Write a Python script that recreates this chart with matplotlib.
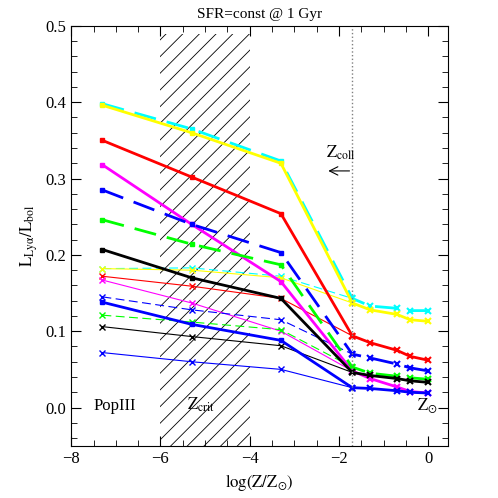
import matplotlib
matplotlib.use("Agg")
import matplotlib.pyplot as plt
from matplotlib.ticker import MultipleLocator

plt.rcParams.update({
    "font.family": "serif",
    "font.serif": ["Liberation Serif", "DejaVu Serif"],
    "mathtext.fontset": "stix",
    "font.size": 12,
    "hatch.linewidth": 0.6,
})

logz = [-7.3, -5.3, -3.3, -1.7, -1.3, -0.7, -0.4, 0.0]
logz_thin = [-7.3, -5.3, -3.3, -1.7]

# thick series (color, linestyle, values)
thick = [
    ("cyan", "--", [0.398, 0.365, 0.323, 0.143, 0.133, 0.130, 0.127, 0.127]),
    ("yellow", "-", [0.396, 0.360, 0.320, 0.137, 0.128, 0.122, 0.115, 0.113]),
    ("red", "-", [0.350, 0.302, 0.254, 0.094, 0.085, 0.075, 0.067, 0.062]),
    ("magenta", "-", [0.318, 0.240, 0.165, 0.048, 0.038, 0.027, 0.021, 0.019]),
    ("blue", "--", [0.285, 0.240, 0.203, 0.070, 0.065, 0.057, 0.052, 0.048]),
    ("lime", "--", [0.246, 0.214, 0.187, 0.053, 0.045, 0.041, 0.039, 0.037]),
    ("black", "-", [0.207, 0.170, 0.143, 0.046, 0.042, 0.038, 0.035, 0.033]),
    ("blue", "-", [0.138, 0.109, 0.088, 0.026, 0.025, 0.022, 0.020, 0.019]),
]
thin = [
    ("cyan", "--", [0.182, 0.183, 0.172, 0.143]),
    ("yellow", "-", [0.182, 0.180, 0.170, 0.137]),
    ("red", "-", [0.172, 0.159, 0.143, 0.094]),
    ("magenta", "-", [0.167, 0.137, 0.100, 0.048]),
    ("blue", "--", [0.145, 0.128, 0.115, 0.070]),
    ("lime", "--", [0.121, 0.112, 0.102, 0.053]),
    ("black", "-", [0.106, 0.093, 0.081, 0.046]),
    ("blue", "-", [0.072, 0.060, 0.050, 0.026]),
]

fig, ax = plt.subplots(figsize=(4.98, 4.98), dpi=100)
fig.subplots_adjust(left=0.143, right=0.9, bottom=0.105, top=0.948)

ax.fill_between([-6, -4], -0.05, 0.49, facecolor="none", edgecolor="black",
                hatch="//", linewidth=0)

for c, ls, v in thin:
    ax.plot(logz_thin, v, color=c, ls=ls, lw=0.8, marker="x", ms=4,
            dashes=(8, 4) if ls == "--" else (None, None))
for c, ls, v in thick:
    kw = dict(color=c, lw=2, dashes=(8, 4)) if ls == "--" else dict(color=c, lw=2)
    ax.plot(logz, v, **kw)
    ax.plot(logz[:3], v[:3], ls="none", marker="s", ms=2.5, color=c)
    ax.plot(logz[3:], v[3:], ls="none", marker="x", ms=4, mew=1.5, color=c)

ax.axvline(-1.7, color="gray", ls=":", lw=1)
ax.annotate("", xy=(-2.3, 0.31), xytext=(-1.7, 0.31),
            arrowprops=dict(arrowstyle="->", lw=0.8, mutation_scale=15))
ax.text(-2.3, 0.327, r"$\mathrm{Z_{coll}}$", fontsize=12)
ax.text(-7.5, -0.003, "PopIII", fontsize=12)
ax.text(-5.4, -0.003, r"$\mathrm{Z_{crit}}$", fontsize=12)
ax.text(-0.25, -0.003, r"$\mathrm{Z_{\odot}}$", fontsize=12)

ax.set_xlim(-8, 0.45)
ax.set_ylim(-0.05, 0.5)
ax.xaxis.set_major_locator(MultipleLocator(2))
ax.xaxis.set_minor_locator(MultipleLocator(0.5))
ax.yaxis.set_major_locator(MultipleLocator(0.1))
ax.yaxis.set_minor_locator(MultipleLocator(0.02))
ax.tick_params(which="both", direction="in", top=True, right=True)
ax.tick_params(which="major", length=7)
ax.tick_params(which="minor", length=4)
ax.set_xlabel(r"$\mathrm{log(Z/Z_{\odot})}$")
ax.set_ylabel(r"$\mathrm{L_{Ly\alpha}/L_{bol}}$")
ax.set_title("SFR=const @ 1 Gyr", fontsize=11)

fig.savefig("out.png", dpi=100)
